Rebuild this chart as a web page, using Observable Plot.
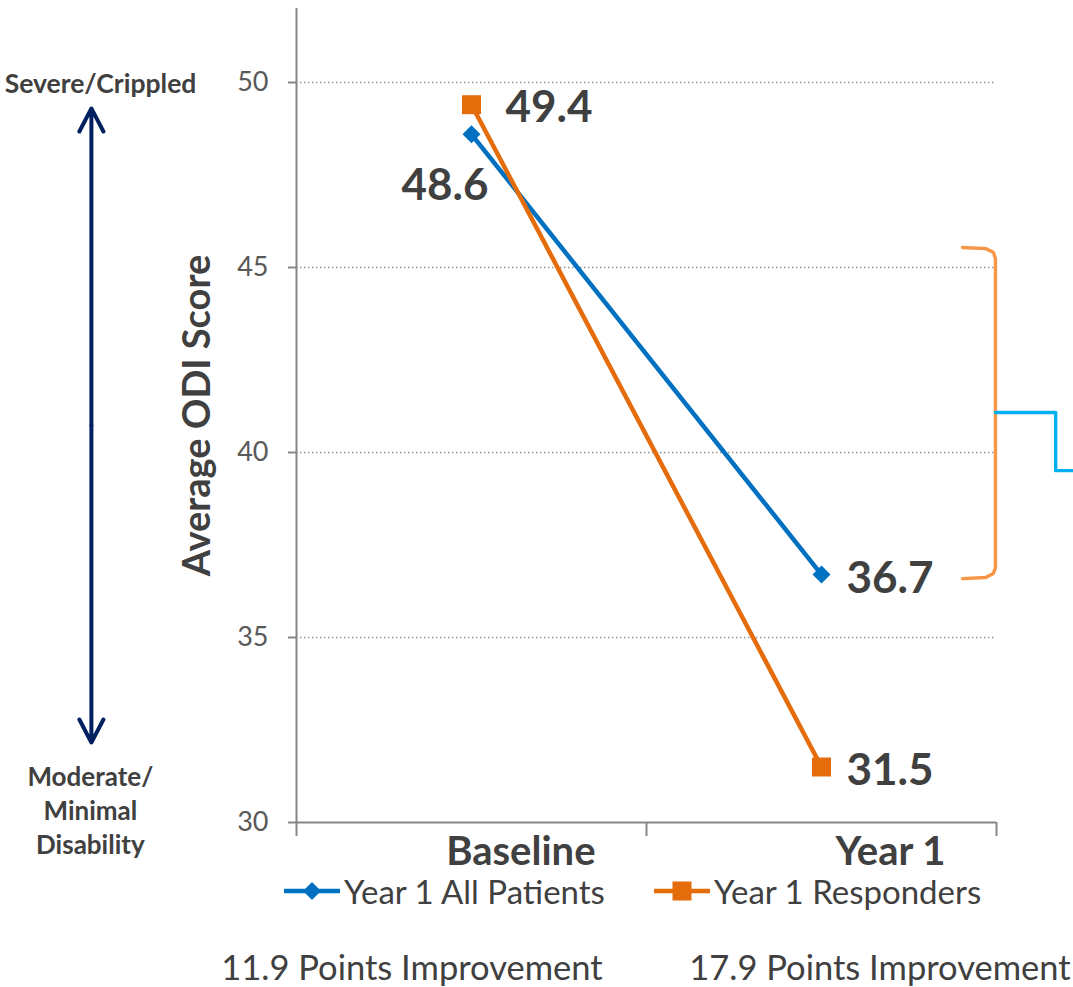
<!DOCTYPE html>
<html>
<head>
<meta charset="utf-8">
<script src="https://cdn.jsdelivr.net/npm/d3@7"></script>
<script src="https://cdn.jsdelivr.net/npm/@observablehq/plot@0.6"></script>
<style>
  html, body { margin: 0; padding: 0; background: #fff; }
  body { width: 1073px; height: 987px; overflow: hidden; position: relative;
         font-family: Lato, "Open Sans", sans-serif; color: #404040; }
  #chart { position: absolute; left: 0; top: 0; }
  .legend-item { position: absolute; top: 873px; height: 36px; display: flex; align-items: center;
                 font-size: 33px; line-height: 1.1; white-space: nowrap; }
  .legend-item svg { margin-right: 4px; }
  .caption { position: absolute; top: 946px; width: 440px; text-align: center; font-size: 34.5px;
             white-space: nowrap; }
</style>
</head>
<body>
<div id="chart"></div>
<div id="legend"></div>
<div id="captions"></div>
<script>
// Average ODI score at baseline and after one year
const categories = ["Baseline", "Year 1"];
const seriesNames = ["Year 1 All Patients", "Year 1 Responders"];
const allPatients = [48.6, 36.7];
const responders = [49.4, 31.5];
const yTicks = [30, 35, 40, 45, 50];
const severityTop = "Severe/Crippled";
const severityBottom = "Moderate/\nMinimal\nDisability";

const colors = ["#0070C0", "#E46C0A"];
const ink = "#404040";
const axisGray = "#868686";

// one row per series and time point; categories sit at the middle of unit-wide slots
const rows = [];
[allPatients, responders].forEach((vals, s) => {
  vals.forEach((v, i) => rows.push({series: seriesNames[s], cat: categories[i], pos: i + 0.5, value: v}));
});
const allRows = rows.filter(d => d.series === seriesNames[0]);
const respRows = rows.filter(d => d.series === seriesNames[1]);

// bracket to the right of the plot, in data units
const bracket = [
  [1.903, 45.54], [1.969, 45.51], [1.991, 45.41], [1.997, 45.24],
  [1.997, 36.89], [1.991, 36.73], [1.969, 36.62], [1.903, 36.59]
];
const connector = [[1.997, 41.08], [2.169, 41.08], [2.169, 39.51], [2.22, 39.51]];

const arrowX = -0.586, arrowMid = 40.73, arrowTop = 49.3, arrowBottom = 32.16;

const plot = Plot.plot({
  width: 1073,
  height: 870,
  marginLeft: 296,
  marginRight: 77,
  marginTop: 8,
  marginBottom: 48,
  style: {fontFamily: "Lato, 'Open Sans', sans-serif", background: "#fff", overflow: "visible"},
  x: {domain: [0, categories.length], axis: null},
  y: {domain: [30, 52], axis: null},
  color: {domain: seriesNames, range: colors},
  marks: [
    // dotted gridlines
    Plot.ruleY(yTicks.filter(t => t > 30), {stroke: "#8c8c8c", strokeWidth: 1.4, strokeDasharray: "1.4,2.6"}),
    // axes
    Plot.axisY({ticks: yTicks, tickSize: 8, tickPadding: 20, fontSize: 27, stroke: axisGray, fill: "#595959",
                strokeWidth: 2, tickFormat: d => d, label: null}),
    Plot.axisX({ticks: d3.range(categories.length + 1), tickSize: 14, stroke: axisGray, strokeWidth: 2,
                tickFormat: () => "", label: null}),
    Plot.ruleX([0], {stroke: axisGray, strokeWidth: 2}),
    Plot.ruleY([30], {stroke: axisGray, strokeWidth: 2}),
    // category labels
    Plot.text(categories, {x: (d, i) => i + 1, y: 30, text: d => d, textAnchor: "end", dx: -51, dy: 30,
                           fontSize: 40, fontWeight: "bold", fill: ink}),
    // y axis title
    Plot.text(["Average ODI Score"], {frameAnchor: "left", textAnchor: "middle", dx: -99, rotate: -90,
                                      fontSize: 38, fontWeight: "bold", fill: ink}),
    // series lines and markers
    Plot.line(rows, {x: "pos", y: "value", z: "series", stroke: "series", strokeWidth: 4.5}),
    Plot.dot(allRows, {x: "pos", y: "value", fill: colors[0], symbol: "diamond2", r: 8.1}),
    Plot.dot(respRows, {x: "pos", y: "value", fill: colors[1], symbol: "square", r: 10.7}),
    // value labels
    Plot.text([respRows[0]], {x: "pos", y: "value", text: d => d.value.toFixed(1), textAnchor: "start",
                              dx: 34, dy: 3, fontSize: 44, fontWeight: "bold", fill: ink}),
    Plot.text([allRows[0]], {x: "pos", y: "value", text: d => d.value.toFixed(1), textAnchor: "end",
                             dx: 17, dy: 52, fontSize: 44, fontWeight: "bold", fill: ink}),
    Plot.text([allRows[1], respRows[1]], {x: "pos", y: "value", text: d => d.value.toFixed(1), textAnchor: "start",
                                          dx: 25, dy: 4, fontSize: 44, fontWeight: "bold", fill: ink}),
    // severity scale on the left
    Plot.arrow([{y1: arrowMid, y2: arrowTop}, {y1: arrowMid, y2: arrowBottom}],
               {x1: () => arrowX, x2: () => arrowX, y1: "y1", y2: "y2", stroke: "#002060", strokeWidth: 4,
                headLength: 9.75, headAngle: 55, strokeLinecap: "round"}),
    Plot.text([severityTop], {x: () => -0.56, y: () => 50, dy: 2, fontSize: 26.5, fontWeight: "bold", fill: ink}),
    Plot.text([severityBottom], {x: () => -0.589, y: () => 30, dy: -13, fontSize: 26, lineHeight: 1.31,
                                 fontWeight: "bold", fill: ink}),
    // bracket annotation on the right
    Plot.line(bracket, {x: d => d[0], y: d => d[1], stroke: "#F79646", strokeWidth: 3.4, strokeLinejoin: "round"}),
    Plot.line(connector, {x: d => d[0], y: d => d[1], stroke: "#00B0F0", strokeWidth: 3.4, strokeLinejoin: "round"})
  ]
});
document.getElementById("chart").append(plot);

// legend below the chart
const legend = document.getElementById("legend");
const legendLeft = [284, 654];
seriesNames.forEach((name, s) => {
  const item = document.createElement("div");
  item.className = "legend-item";
  item.style.left = legendLeft[s] + "px";
  const marker = s === 0
    ? `<path d="M28,1 L37,10 L28,19 L19,10 Z" fill="${colors[0]}"/>`
    : `<rect x="18.5" y="0.5" width="19" height="19" fill="${colors[1]}"/>`;
  item.innerHTML = `<svg width="56" height="20"><line x1="1" y1="10" x2="55" y2="10" stroke="${colors[s]}"
    stroke-width="4.5" stroke-linecap="round"/>${marker}</svg><span>${name}</span>`;
  legend.append(item);
});

// improvement captions computed from the data
const captions = document.getElementById("captions");
const captionCenter = [412, 880];
[allPatients, responders].forEach((vals, s) => {
  const span = document.createElement("div");
  span.className = "caption";
  span.style.left = (captionCenter[s] - 220) + "px";
  span.textContent = `${(vals[0] - vals[1]).toFixed(1)} Points Improvement`;
  captions.append(span);
});
</script>
</body>
</html>
